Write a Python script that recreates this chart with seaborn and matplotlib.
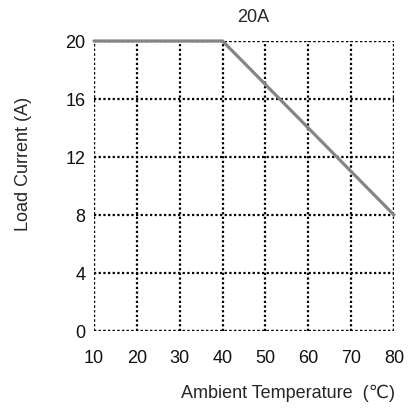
import numpy as np
import pandas as pd
import matplotlib
matplotlib.use('Agg')
import matplotlib.pyplot as plt
import seaborn as sns

# data
temps = [10, 40, 80]
current = [20, 20, 8]
x_ticks = [10, 20, 30, 40, 50, 60, 70, 80]
y_ticks = [0, 4, 8, 12, 16, 20]

sns.set_style('white')
plt.rcParams['font.family'] = ['Liberation Sans', 'DejaVu Sans']

df = pd.DataFrame({'temp': temps, 'current': current})

fig = plt.figure(figsize=(4.08, 4.08), dpi=100)
ax = fig.add_axes([94 / 408, 1 - 331 / 408, 300 / 408, 290 / 408])

sns.lineplot(data=df, x='temp', y='current', color='#858585', linewidth=2.3,
             ax=ax, zorder=5, clip_on=False)

dots = (0, (1, 1.1))
ax.set_xlim(10, 80)
ax.set_ylim(0, 20)
ax.set_xticks(x_ticks)
ax.set_yticks(y_ticks)
ax.grid(True, color='black', linestyle=dots, linewidth=1.6)
for s in ax.spines.values():
    s.set_visible(False)
# dotted frame drawn like the grid
for xv in (10, 80):
    ax.axvline(xv, color='black', linestyle=dots, linewidth=1.6, zorder=1)
for yv in (0, 20):
    ax.axhline(yv, color='black', linestyle=dots, linewidth=1.6, zorder=1)

ax.tick_params(axis='both', length=0, labelsize=13, colors='#111111')
ax.tick_params(axis='x', pad=14)
ax.tick_params(axis='y', pad=6)
ax.set_xlabel('')
ax.set_ylabel('')

fig.text(253 / 408, 1 - 17 / 408, '20A', ha='center', va='center', fontsize=13)
fig.text(288 / 408, 1 - 393 / 408, 'Ambient Temperature  (\u2103)', ha='center',
         va='center', fontsize=13)
fig.text(24 / 408, 1 - 164 / 408, 'Load Current (A)', ha='center', va='center',
         rotation=90, fontsize=13)

fig.savefig('out.png', dpi=100)
